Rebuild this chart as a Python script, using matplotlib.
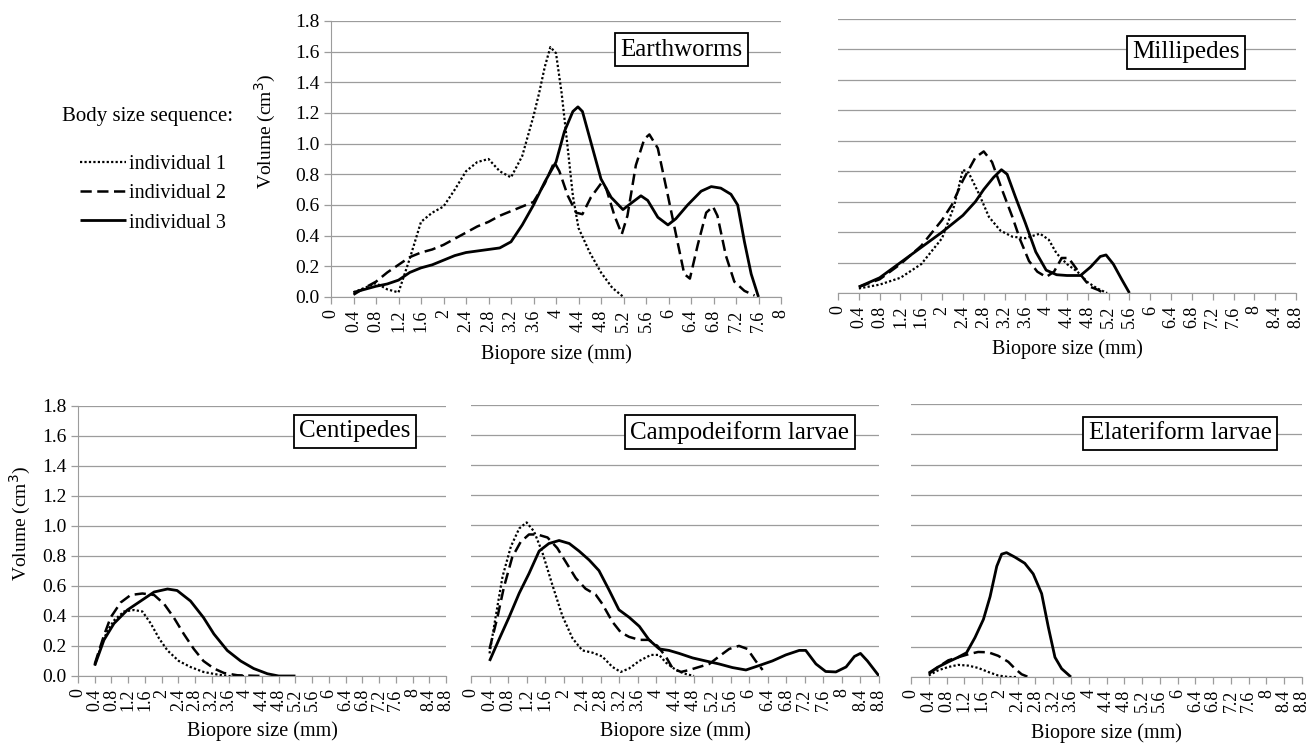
import matplotlib.pyplot as plt
import numpy as np

plt.rcParams['font.family'] = ['Liberation Serif', 'DejaVu Serif']

# ---- data ----
# Earthworms
ew1_x = [0.4, 0.6, 0.8, 1.0, 1.2, 1.4, 1.6, 1.8, 2.0, 2.2, 2.4, 2.6, 2.8, 3.0, 3.2, 3.4, 3.6, 3.7, 3.8, 3.9,
         4.0, 4.1, 4.2, 4.3, 4.4, 4.6, 4.8, 5.0, 5.2]
ew1_y = [0.03, 0.06, 0.09, 0.05, 0.03, 0.25, 0.49, 0.55, 0.59, 0.70, 0.82, 0.88, 0.90, 0.82, 0.78, 0.92, 1.18,
         1.33, 1.50, 1.63, 1.59, 1.33, 1.00, 0.66, 0.45, 0.29, 0.16, 0.06, 0.0]
ew2_x = [0.4, 0.6, 0.8, 1.0, 1.2, 1.4, 1.6, 1.8, 2.0, 2.2, 2.4, 2.6, 2.8, 3.0, 3.2, 3.4, 3.6, 3.8, 3.97, 4.06,
         4.21, 4.36, 4.47, 4.62, 4.8, 4.89, 5.04, 5.17, 5.27, 5.42, 5.57, 5.66, 5.81, 5.99, 6.16, 6.28, 6.38,
         6.52, 6.67, 6.79, 6.87, 7.02, 7.17, 7.35, 7.53]
ew2_y = [0.015, 0.06, 0.10, 0.16, 0.21, 0.26, 0.29, 0.31, 0.34, 0.38, 0.42, 0.46, 0.49, 0.53, 0.56, 0.59, 0.62,
         0.74, 0.88, 0.82, 0.66, 0.55, 0.54, 0.65, 0.74, 0.71, 0.53, 0.41, 0.53, 0.86, 1.03, 1.06, 0.97, 0.66,
         0.36, 0.15, 0.12, 0.34, 0.55, 0.59, 0.53, 0.27, 0.10, 0.04, 0.01]
ew3_x = [0.4, 0.6, 0.8, 1.0, 1.2, 1.4, 1.6, 1.8, 2.0, 2.2, 2.4, 2.6, 2.8, 3.0, 3.2, 3.4, 3.6, 3.8, 4.0, 4.15,
         4.3, 4.39, 4.47, 4.62, 4.8, 4.98, 5.19, 5.33, 5.51, 5.63, 5.81, 5.99, 6.13, 6.34, 6.58, 6.76, 6.93,
         7.11, 7.23, 7.35, 7.47, 7.6]
ew3_y = [0.03, 0.05, 0.07, 0.085, 0.11, 0.16, 0.19, 0.21, 0.24, 0.27, 0.29, 0.30, 0.31, 0.32, 0.36, 0.47, 0.60,
         0.75, 0.88, 1.08, 1.21, 1.24, 1.21, 1.01, 0.77, 0.65, 0.57, 0.61, 0.66, 0.63, 0.52, 0.47, 0.51, 0.60,
         0.69, 0.72, 0.71, 0.67, 0.60, 0.36, 0.15, 0.0]

# Millipedes
mp1_x = [0.4, 0.8, 1.2, 1.6, 2.0, 2.23, 2.4, 2.51, 2.71, 2.9, 3.12, 3.35, 3.6, 3.88, 4.05, 4.2, 4.4, 4.6, 4.8,
         4.98, 5.17]
mp1_y = [0.03, 0.055, 0.10, 0.19, 0.36, 0.57, 0.81, 0.79, 0.65, 0.50, 0.41, 0.37, 0.36, 0.39, 0.35, 0.26, 0.19,
         0.14, 0.07, 0.03, 0.0]
mp2_x = [0.4, 0.8, 1.2, 1.6, 2.0, 2.19, 2.4, 2.64, 2.8, 2.96, 3.15, 3.35, 3.5, 3.67, 3.83, 4.0, 4.15, 4.3, 4.43,
         4.6, 4.73, 4.85, 5.0, 5.1]
mp2_y = [0.04, 0.09, 0.19, 0.31, 0.48, 0.58, 0.74, 0.89, 0.93, 0.86, 0.68, 0.50, 0.35, 0.21, 0.14, 0.105, 0.14,
         0.23, 0.23, 0.15, 0.09, 0.04, 0.02, 0.0]
mp3_x = [0.4, 0.8, 1.2, 1.6, 2.0, 2.4, 2.64, 2.8, 2.99, 3.14, 3.25, 3.41, 3.6, 3.8, 4.0, 4.2, 4.4, 4.66, 4.85,
         5.04, 5.15, 5.29, 5.45, 5.6]
mp3_y = [0.04, 0.10, 0.20, 0.30, 0.40, 0.51, 0.60, 0.68, 0.76, 0.81, 0.78, 0.63, 0.46, 0.27, 0.15, 0.12, 0.115,
         0.115, 0.17, 0.24, 0.25, 0.19, 0.09, 0.0]

# Centipedes
cp1_x = [0.4, 0.54, 0.70, 0.86, 1.1, 1.34, 1.54, 1.74, 1.94, 2.14, 2.41, 2.69, 3.0, 3.33, 3.6, 4.0]
cp1_y = [0.07, 0.19, 0.30, 0.37, 0.43, 0.44, 0.43, 0.35, 0.25, 0.17, 0.10, 0.06, 0.027, 0.01, 0.0, 0.0]
cp2_x = [0.4, 0.62, 0.78, 1.02, 1.26, 1.54, 1.82, 2.06, 2.29, 2.53, 2.77, 3.0, 3.25, 3.49, 3.81, 4.4]
cp2_y = [0.08, 0.27, 0.39, 0.49, 0.54, 0.55, 0.54, 0.48, 0.39, 0.28, 0.18, 0.10, 0.05, 0.02, 0.005, 0.0]
cp3_x = [0.4, 0.62, 0.86, 1.18, 1.5, 1.82, 2.14, 2.37, 2.69, 3.0, 3.25, 3.57, 3.89, 4.2, 4.53, 4.8, 5.2]
cp3_y = [0.07, 0.24, 0.35, 0.44, 0.50, 0.56, 0.58, 0.57, 0.50, 0.39, 0.28, 0.17, 0.10, 0.05, 0.015, 0.0, 0.0]

# Campodeiform larvae
cl1_x = [0.4, 0.53, 0.68, 0.86, 1.04, 1.2, 1.36, 1.54, 1.76, 1.97, 2.19, 2.4, 2.62, 2.83, 3.05, 3.23, 3.41,
         3.63, 3.88, 4.06, 4.2, 4.42, 4.6, 4.81]
cl1_y = [0.15, 0.39, 0.66, 0.86, 0.98, 1.02, 0.96, 0.82, 0.60, 0.40, 0.25, 0.17, 0.155, 0.13, 0.06, 0.027, 0.05,
         0.10, 0.14, 0.14, 0.09, 0.04, 0.016, 0.0]
cl2_x = [0.4, 0.57, 0.71, 0.89, 1.07, 1.25, 1.43, 1.65, 1.86, 2.04, 2.26, 2.47, 2.69, 2.83, 3.05, 3.23, 3.41,
         3.63, 3.84, 4.02, 4.2, 4.35, 4.53, 4.71, 4.92, 5.14, 5.35, 5.57, 5.78, 5.96, 6.14, 6.29]
cl2_y = [0.18, 0.39, 0.59, 0.79, 0.89, 0.94, 0.94, 0.92, 0.85, 0.76, 0.65, 0.58, 0.54, 0.48, 0.36, 0.29, 0.26,
         0.24, 0.24, 0.20, 0.13, 0.05, 0.027, 0.04, 0.06, 0.08, 0.13, 0.18, 0.20, 0.18, 0.10, 0.04]
cl3_x = [0.4, 0.6, 0.82, 1.04, 1.25, 1.47, 1.68, 1.9, 2.12, 2.33, 2.55, 2.76, 2.98, 3.19, 3.41, 3.63, 3.84, 4.06,
         4.27, 4.49, 4.78, 5.06, 5.35, 5.64, 5.93, 6.22, 6.5, 6.79, 7.08, 7.22, 7.44, 7.65, 7.87, 8.09, 8.27, 8.4,
         8.55, 8.8]
cl3_y = [0.10, 0.24, 0.39, 0.55, 0.68, 0.83, 0.88, 0.90, 0.88, 0.83, 0.77, 0.70, 0.57, 0.44, 0.39, 0.33, 0.24,
         0.18, 0.17, 0.15, 0.12, 0.10, 0.08, 0.056, 0.04, 0.07, 0.10, 0.14, 0.17, 0.17, 0.08, 0.03, 0.027, 0.06,
         0.13, 0.15, 0.10, 0.0]

# Elateriform larvae
el1_x = [0.4, 0.61, 0.84, 1.06, 1.29, 1.51, 1.74, 1.96, 2.19, 2.41]
el1_y = [0.01, 0.044, 0.066, 0.08, 0.075, 0.06, 0.033, 0.01, 0.0, 0.0]
el2_x = [0.4, 0.61, 0.84, 1.06, 1.29, 1.51, 1.74, 1.96, 2.19, 2.34, 2.49, 2.64]
el2_y = [0.02, 0.066, 0.11, 0.13, 0.15, 0.165, 0.163, 0.14, 0.10, 0.055, 0.018, 0.0]
el3_x = [0.4, 0.61, 0.84, 1.06, 1.25, 1.44, 1.63, 1.78, 1.93, 2.04, 2.15, 2.34, 2.56, 2.75, 2.94, 3.09, 3.24,
         3.39, 3.6]
el3_y = [0.026, 0.066, 0.10, 0.13, 0.16, 0.26, 0.38, 0.53, 0.73, 0.81, 0.82, 0.79, 0.75, 0.68, 0.55, 0.33, 0.13,
         0.055, 0.0]

series_labels = ['individual 1', 'individual 2', 'individual 3']
y_ticks = [0.0, 0.2, 0.4, 0.6, 0.8, 1.0, 1.2, 1.4, 1.6, 1.8]

styles = [dict(linestyle=(0, (1, 1)), linewidth=1.6),
          dict(linestyle=(0, (4.5, 2.2)), linewidth=1.8),
          dict(linestyle='-', linewidth=2.0)]

GRID = '#9c9c9c'

fig = plt.figure(figsize=(13.07, 7.43), dpi=100)


def make_panel(rect, title, title_xy, series, xmax, show_y):
    ax = fig.add_axes(rect)
    for (xs, ys), st in zip(series, styles):
        ax.plot(xs, ys, color='black', solid_capstyle='butt', dash_capstyle='butt',
                solid_joinstyle='round', **st)
    ax.set_xlim(0, xmax)
    ax.set_ylim(0, 1.8)
    xt = np.round(np.arange(0, xmax + 0.01, 0.4), 1)
    ax.set_xticks(xt)
    ax.set_xticklabels([f'{v:g}' for v in xt], rotation=90, va='top', fontsize=13)
    ax.set_yticks(y_ticks)
    ax.yaxis.grid(True, color=GRID, linewidth=0.9)
    ax.set_axisbelow(True)
    for s in ['top', 'right']:
        ax.spines[s].set_visible(False)
    ax.spines['bottom'].set_color(GRID)
    ax.tick_params(axis='x', colors=GRID, length=5, width=0.9, pad=4, labelcolor='black')
    if show_y:
        ax.spines['left'].set_color(GRID)
        ax.set_yticklabels([f'{v:.1f}' for v in y_ticks], fontsize=14)
        ax.tick_params(axis='y', colors=GRID, length=5, width=0.9, pad=3, labelcolor='black')
        ax.set_ylabel('Volume (cm$^3$)', fontsize=14)
    else:
        ax.spines['left'].set_visible(False)
        ax.tick_params(axis='y', length=0, labelleft=False)
    ax.set_xlabel('Biopore size (mm)', fontsize=14.5)
    ax.text(title_xy[0], title_xy[1], title, transform=ax.transAxes, ha='center', va='center',
            fontsize=18, bbox=dict(boxstyle='square,pad=0.22', facecolor='white', edgecolor='black',
                                   linewidth=1.3))
    return ax


W, H = 1307.0, 743.0


def rect(x0, x1, y0, y1):
    return [x0 / W, 1 - y1 / H, (x1 - x0) / W, (y1 - y0) / H]


ax_ew = make_panel(rect(331, 781, 21, 297), 'Earthworms', (0.778, 0.895),
                   [(ew1_x, ew1_y), (ew2_x, ew2_y), (ew3_x, ew3_y)], 8.0, True)
ax_ew.yaxis.set_label_coords(-0.118, 0.6)
ax_ew.xaxis.set_label_coords(0.5, -0.17)

ax_mp = make_panel(rect(838, 1296, 19, 293), 'Millipedes', (0.760, 0.879),
                   [(mp1_x, mp1_y), (mp2_x, mp2_y), (mp3_x, mp3_y)], 8.8, False)
ax_mp.xaxis.set_label_coords(0.5, -0.17)

ax_cp = make_panel(rect(78, 446, 406, 676), 'Centipedes', (0.753, 0.907),
                   [(cp1_x, cp1_y), (cp2_x, cp2_y), (cp3_x, cp3_y)], 8.8, True)
ax_cp.yaxis.set_label_coords(-0.122, 0.567)
ax_cp.xaxis.set_label_coords(0.5, -0.168)

ax_cl = make_panel(rect(471, 879, 405, 676), 'Campodeiform larvae', (0.659, 0.900),
                   [(cl1_x, cl1_y), (cl2_x, cl2_y), (cl3_x, cl3_y)], 8.8, False)
ax_cl.xaxis.set_label_coords(0.5, -0.168)

ax_el = make_panel(rect(911, 1302, 404, 677), 'Elateriform larvae', (0.688, 0.893),
                   [(el1_x, el1_y), (el2_x, el2_y), (el3_x, el3_y)], 8.8, False)
ax_el.xaxis.set_label_coords(0.5, -0.168)

# legend on the left of the earthworm panel
fig.text(233 / W, 1 - 116 / H, 'Body size sequence:', ha='right', va='center', fontsize=15)
handles = ax_ew.get_lines()[:3]
leg = fig.legend(handles, series_labels, loc='upper right', bbox_to_anchor=(236 / W, 1 - 145 / H),
                 frameon=False, fontsize=14.5, handlelength=2.3, handletextpad=0.15,
                 labelspacing=0.5, borderpad=0.0)

fig.savefig('out.png', dpi=100)
